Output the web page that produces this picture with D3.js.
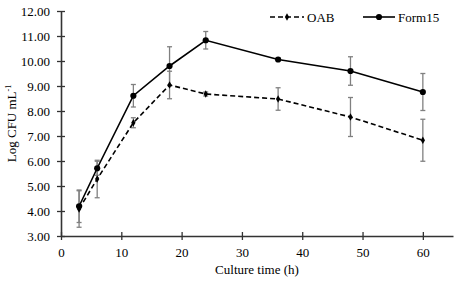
<!DOCTYPE html>
<html>
<head>
<meta charset="utf-8">
<script src="https://cdn.jsdelivr.net/npm/d3@7"></script>
<style>
  body { margin: 0; background: #fff; }
</style>
</head>
<body>
<div id="chart"></div>
<script>
const times = [3, 6, 12, 18, 24, 36, 48, 60];
const oab = [4.08, 5.28, 7.53, 9.04, 8.68, 8.48, 7.76, 6.83];
const oabErr = [0.73, 0.75, 0.2, 0.55, 0.08, 0.45, 0.78, 0.84];
const form15 = [4.19, 5.71, 8.61, 9.8, 10.83, 10.06, 9.6, 8.76];
const form15Err = [0.65, 0.28, 0.45, 0.77, 0.35, 0.06, 0.57, 0.74];
const yTicks = [3, 4, 5, 6, 7, 8, 9, 10, 11, 12];
const xTicks = [0, 10, 20, 30, 40, 50, 60];

const width = 459, height = 281;
const margin = { left: 61, top: 11, right: 6, bottom: 45 };
const serif = '"Liberation Serif", "Times New Roman", Times, serif';

const svg = d3.select('#chart').append('svg')
    .attr('width', width)
    .attr('height', height)
    .style('font-family', serif);

const x = d3.scaleLinear().domain([0, 65]).range([margin.left, width - margin.right]);
const y = d3.scaleLinear().domain([3, 12]).range([height - margin.bottom, margin.top]);

// axes
const xAxis = svg.append('g')
    .attr('transform', `translate(0,${y(3)})`)
    .call(d3.axisBottom(x).tickValues(xTicks).tickSize(0).tickPadding(12));
xAxis.attr('font-family', null).style('font-family', serif);
xAxis.select('.domain').attr('stroke', '#333').attr('stroke-width', 1.6);
xAxis.selectAll('.tick').append('line')
    .attr('y1', -4).attr('y2', 4).attr('stroke', '#333').attr('stroke-width', 1.3);
xAxis.selectAll('.tick text').attr('font-size', 13).attr('fill', '#000');

const yAxis = svg.append('g')
    .attr('transform', `translate(${x(0)},0)`)
    .call(d3.axisLeft(y).tickValues(yTicks).tickFormat(d3.format('.2f')).tickSize(0).tickPadding(11));
yAxis.attr('font-family', null).style('font-family', serif);
yAxis.select('.domain').attr('stroke', '#333').attr('stroke-width', 1.6);
yAxis.selectAll('.tick').append('line')
    .attr('x1', -4).attr('x2', 4).attr('stroke', '#333').attr('stroke-width', 1.3);
yAxis.selectAll('.tick text').attr('font-size', 13).attr('fill', '#000');

svg.append('text')
    .attr('x', x(32.5)).attr('y', 274)
    .attr('text-anchor', 'middle').attr('font-size', 13)
    .text('Culture time (h)');

const yl = svg.append('text')
    .attr('transform', `translate(16,${y(7.5)}) rotate(-90)`)
    .attr('text-anchor', 'middle').attr('font-size', 13);
yl.append('tspan').text('Log CFU mL');
yl.append('tspan').attr('font-size', 8).attr('dy', -5).text('-1');

// series
const series = [
    { name: 'OAB', vals: oab, err: oabErr, dash: '5,3', marker: 'diamond' },
    { name: 'Form15', vals: form15, err: form15Err, dash: null, marker: 'circle' }
];

series.forEach(s => {
    const pts = times.map((t, i) => ({ t: t, v: s.vals[i], e: s.err[i] }));
    const eb = svg.append('g').attr('stroke', '#808080').attr('stroke-width', 1.3);
    pts.forEach(p => {
        eb.append('line').attr('x1', x(p.t)).attr('x2', x(p.t))
            .attr('y1', y(p.v - p.e)).attr('y2', y(p.v + p.e));
        [p.v - p.e, p.v + p.e].forEach(v => {
            eb.append('line').attr('x1', x(p.t) - 2.5).attr('x2', x(p.t) + 2.5)
                .attr('y1', y(v)).attr('y2', y(v));
        });
    });
});

series.forEach(s => {
    const pts = times.map((t, i) => ({ t: t, v: s.vals[i] }));
    svg.append('path')
        .datum(pts)
        .attr('fill', 'none')
        .attr('stroke', '#000')
        .attr('stroke-width', 1.6)
        .attr('stroke-dasharray', s.dash)
        .attr('d', d3.line().x(d => x(d.t)).y(d => y(d.v)));
    const sym = s.marker === 'circle' ? d3.symbol(d3.symbolCircle, 30) : d3.symbol(d3.symbolDiamond, 16);
    svg.append('g').selectAll('path')
        .data(pts).join('path')
        .attr('transform', d => `translate(${x(d.t)},${y(d.v)})`)
        .attr('d', sym)
        .attr('fill', '#000');
});

// legend
const legend = [
    { name: 'OAB', x1: 270, x2: 304, dash: '5,3', sym: d3.symbol(d3.symbolDiamond, 16) },
    { name: 'Form15', x1: 363, x2: 395, dash: null, sym: d3.symbol(d3.symbolCircle, 30) }
];
legend.forEach(l => {
    const ly = 17;
    svg.append('line').attr('x1', l.x1).attr('x2', l.x2).attr('y1', ly).attr('y2', ly)
        .attr('stroke', '#000').attr('stroke-width', 1.6).attr('stroke-dasharray', l.dash);
    svg.append('path').attr('transform', `translate(${(l.x1 + l.x2) / 2},${ly})`)
        .attr('d', l.sym).attr('fill', '#000');
    svg.append('text').attr('x', l.x2 + 3).attr('y', ly + 4.5)
        .attr('font-size', 13).text(l.name);
});
</script>
</body>
</html>
